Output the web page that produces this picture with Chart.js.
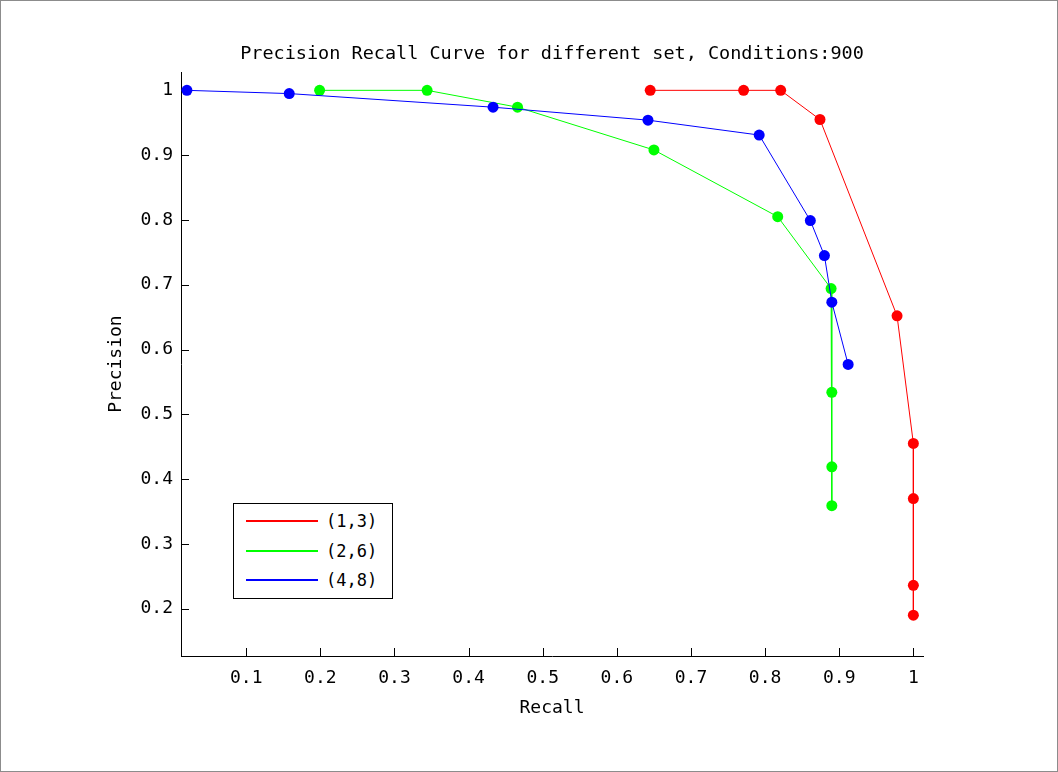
<!DOCTYPE html>
<html lang="en">
<head>
    <meta charset="UTF-8">
    <title>Precision Recall Curve</title>
    <script src="https://cdn.jsdelivr.net/npm/chart.js"></script>
    <style>
        body { margin: 0; background: #fff; }
        .wrap { position: relative; width: 1058px; height: 772px; }
        .frame { position: absolute; left: 0; top: 0; width: 1058px; height: 772px;
                 box-sizing: border-box; border: 1px solid #8c8c8c; pointer-events: none; }
        #legend { position: absolute; left: 233px; top: 503px; width: 160px; height: 96px;
                  box-sizing: border-box; border: 1px solid #000; background: #fff;
                  font-family: "DejaVu Sans Mono", monospace; font-size: 17px; color: #000; }
        #legend .row { position: absolute; left: 0; height: 20px; }
        #legend .ln { position: absolute; left: 12px; top: 9px; width: 72px; height: 2px; }
        #legend .tx { position: absolute; left: 92px; top: 0; line-height: 20px; white-space: nowrap; }
    </style>
</head>
<body>
<div class="wrap">
    <canvas id="prChart" width="1058" height="772"></canvas>
    <div id="legend"></div>
    <div class="frame"></div>
</div>
<script>
    // values
    var seriesNames = ['(1,3)', '(2,6)', '(4,8)'];
    var seriesColors = ['#ff0000', '#00ff00', '#0000ff'];

    var recall13 = [0.645, 0.771, 0.821, 0.874, 0.978, 1.0, 1.0, 1.0, 1.0];
    var precision13 = [1.0, 1.0, 1.0, 0.955, 0.652, 0.455, 0.370, 0.236, 0.190];

    var recall26 = [0.199, 0.344, 0.466, 0.650, 0.817, 0.889, 0.890, 0.890, 0.890];
    var precision26 = [1.0, 1.0, 0.974, 0.908, 0.805, 0.694, 0.534, 0.419, 0.359];

    var recall48 = [0.020, 0.158, 0.433, 0.642, 0.792, 0.861, 0.880, 0.890, 0.912];
    var precision48 = [1.0, 0.995, 0.974, 0.954, 0.931, 0.799, 0.745, 0.673, 0.577];

    var xTickStep = 0.1;
    var yTickStep = 0.1;

    function toPoints(xs, ys) {
        return xs.map(function (x, i) { return { x: x, y: ys[i] }; });
    }

    var allRecall = [recall13, recall26, recall48];
    var allPrecision = [precision13, precision26, precision48];

    var datasets = seriesNames.map(function (name, i) {
        return {
            label: name,
            data: toPoints(allRecall[i], allPrecision[i]),
            borderColor: seriesColors[i],
            backgroundColor: seriesColors[i],
            borderWidth: 1,
            pointRadius: 5.5,
            pointBorderWidth: 0,
            pointBackgroundColor: seriesColors[i],
            showLine: true,
            tension: 0,
            order: 3 - i
        };
    });

    var monoFont = { family: '"DejaVu Sans Mono", monospace', size: 18 };

    function tickText(v) {
        return Math.abs(v - 1) < 1e-9 ? '1' : v.toFixed(1);
    }

    // inward tick marks, like the original plot
    var innerTicks = {
        id: 'innerTicks',
        beforeDatasetsDraw: function (chart) {
            var ctx = chart.ctx;
            var xs = chart.scales.x, ys = chart.scales.y;
            var area = chart.chartArea;
            ctx.save();
            ctx.strokeStyle = '#000';
            ctx.lineWidth = 1;
            ctx.beginPath();
            xs.ticks.forEach(function (t) {
                var px = Math.round(xs.getPixelForValue(t.value)) + 0.5;
                ctx.moveTo(px, area.bottom);
                ctx.lineTo(px, area.bottom - 8);
            });
            ys.ticks.forEach(function (t) {
                var py = Math.round(ys.getPixelForValue(t.value)) + 0.5;
                ctx.moveTo(area.left, py);
                ctx.lineTo(area.left + 8, py);
            });
            ctx.stroke();
            ctx.restore();
        }
    };

    var ctx = document.getElementById('prChart').getContext('2d');
    var prChart = new Chart(ctx, {
        type: 'scatter',
        data: { datasets: datasets },
        options: {
            responsive: false,
            animation: false,
            devicePixelRatio: 1,
            layout: { padding: { left: 0, right: 135, top: 0, bottom: 0 } },
            plugins: {
                legend: { display: false },
                tooltip: { enabled: false },
                title: {
                    display: true,
                    text: 'Precision Recall Curve for different set, Conditions:900',
                    color: '#000',
                    fullSize: false,
                    font: { family: monoFont.family, size: 18.5, weight: 'normal' },
                    padding: { top: 43, bottom: 7 }
                }
            },
            scales: {
                x: {
                    type: 'linear',
                    position: 'bottom',
                    min: 0.012,
                    max: 1.013,
                    grid: { display: false, drawTicks: false },
                    border: { display: true, color: '#000', width: 1 },
                    ticks: {
                        stepSize: xTickStep,
                        includeBounds: false,
                        autoSkip: false,
                        maxRotation: 0,
                        padding: 12,
                        color: '#000',
                        font: monoFont,
                        callback: tickText
                    },
                    title: {
                        display: true,
                        text: 'Recall',
                        color: '#000',
                        font: monoFont,
                        padding: { top: 0, bottom: 53 }
                    },
                    afterFit: function (s) { s.height = 116; }
                },
                y: {
                    type: 'linear',
                    position: 'left',
                    min: 0.127,
                    max: 1.028,
                    grid: { display: false, drawTicks: false },
                    border: { display: true, color: '#000', width: 1 },
                    ticks: {
                        stepSize: yTickStep,
                        includeBounds: false,
                        autoSkip: false,
                        padding: 8,
                        color: '#000',
                        font: monoFont,
                        callback: tickText
                    },
                    title: {
                        display: true,
                        text: 'Precision',
                        color: '#000',
                        font: monoFont,
                        padding: { top: 106, bottom: 0 }
                    },
                    afterFit: function (s) { s.width = 181; }
                }
            }
        },
        plugins: [innerTicks]
    });

    // legend box inside the axes, lines only
    var legendBox = document.getElementById('legend');
    seriesNames.forEach(function (name, i) {
        var row = document.createElement('div');
        row.className = 'row';
        row.style.top = (7 + i * 29.5) + 'px';
        row.style.width = '100%';
        row.innerHTML = '<div class="ln" style="background:' + seriesColors[i] + '"></div>' +
                        '<div class="tx">' + name + '</div>';
        legendBox.appendChild(row);
    });
</script>
</body>
</html>
